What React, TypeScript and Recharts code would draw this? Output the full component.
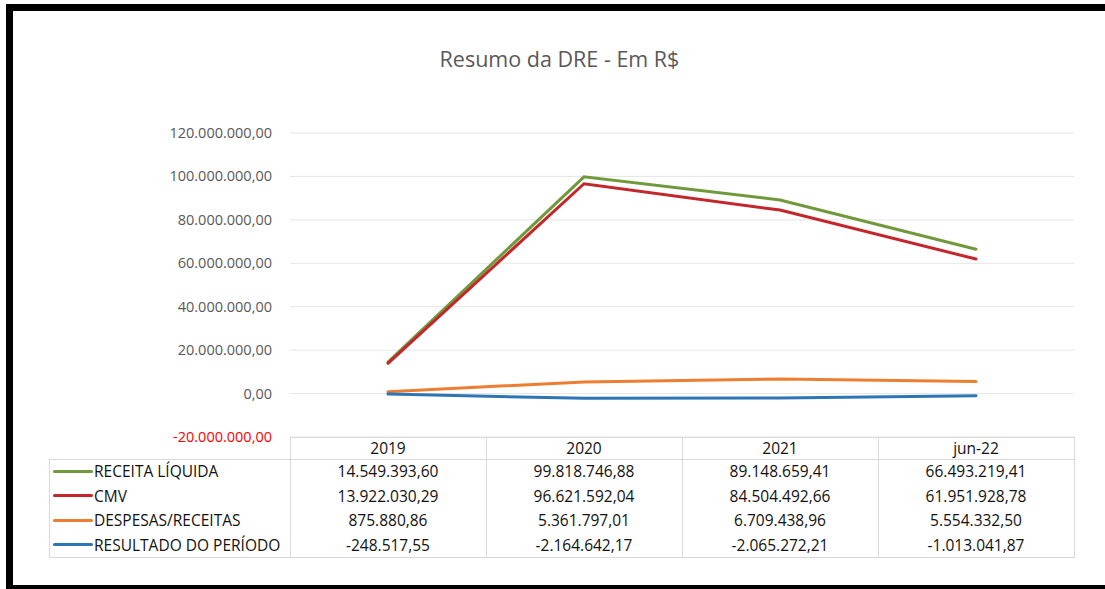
import { LineChart, Line, XAxis, YAxis, CartesianGrid } from 'recharts'

const YEARS = ['2019', '2020', '2021', 'jun-22']
const RECEITA_LIQUIDA = [14549393.6, 99818746.88, 89148659.41, 66493219.41]
const CMV = [13922030.29, 96621592.04, 84504492.66, 61951928.78]
const DESPESAS_RECEITAS = [875880.86, 5361797.01, 6709438.96, 5554332.5]
const RESULTADO = [-248517.55, -2164642.17, -2065272.21, -1013041.87]
const Y_TICKS = [-20000000, 0, 20000000, 40000000, 60000000, 80000000, 100000000, 120000000]

const SERIES = [
  { key: 'receita', name: 'RECEITA LÍQUIDA', color: '#70993c', values: RECEITA_LIQUIDA },
  { key: 'cmv', name: 'CMV', color: '#c3272c', values: CMV },
  { key: 'despesas', name: 'DESPESAS/RECEITAS', color: '#ed7d31', values: DESPESAS_RECEITAS },
  { key: 'resultado', name: 'RESULTADO DO PERÍODO', color: '#2e75b6', values: RESULTADO },
]

const W = 1105
const H = 589
const PLOT_LEFT = 290
const PLOT_RIGHT = 1074
const PLOT_TOP = 133
const PLOT_BOTTOM = 437
const BAND = (PLOT_RIGHT - PLOT_LEFT) / YEARS.length
const FONT = '"Open Sans", sans-serif'
const GRID = '#d9d9d9'

// pt-BR number format: 14.549.393,60
function fmt(v: number) {
  const neg = v < 0
  const [int, dec] = Math.abs(v).toFixed(2).split('.')
  const grouped = int.replace(/\B(?=(\d{3})+(?!\d))/g, '.')
  return (neg ? '-' : '') + grouped + ',' + dec
}

const data = YEARS.map((year, i) => {
  const row: Record<string, string | number> = { year }
  SERIES.forEach((s) => {
    row[s.key] = s.values[i]
  })
  return row
})

function YTick({ x, y, payload }: any) {
  const v = payload.value as number
  return (
    <text
      x={x}
      y={y + 5}
      textAnchor="end"
      fontSize={14.5}
      fontFamily={FONT}
      fill={v < 0 ? '#ff0000' : '#595959'}
    >
      {fmt(v)}
    </text>
  )
}

function Rule({ x, y, w, h }: { x: number; y: number; w: number; h: number }) {
  return (
    <div
      style={{ position: 'absolute', left: x, top: y, width: w, height: h, background: GRID }}
    />
  )
}

function DataTable() {
  const headerTop = PLOT_BOTTOM
  const headerH = 22
  const rowH = 24.5
  const rowsTop = headerTop + headerH
  const tableBottom = rowsTop + rowH * SERIES.length
  const legendLeft = 49

  return (
    <>
      <Rule x={PLOT_LEFT} y={headerTop} w={PLOT_RIGHT - PLOT_LEFT + 1} h={1} />
      <Rule x={legendLeft} y={rowsTop} w={PLOT_RIGHT - legendLeft + 1} h={1} />
      <Rule x={legendLeft} y={tableBottom} w={PLOT_RIGHT - legendLeft + 1} h={1} />
      <Rule x={legendLeft} y={rowsTop} w={1} h={tableBottom - rowsTop} />
      {YEARS.map((_, i) => (
        <Rule key={i} x={Math.round(PLOT_LEFT + BAND * i)} y={headerTop} w={1} h={tableBottom - headerTop} />
      ))}
      <Rule x={PLOT_RIGHT} y={headerTop} w={1} h={tableBottom - headerTop} />

      {YEARS.map((year, i) => (
        <div
          key={year}
          style={{
            position: 'absolute',
            left: PLOT_LEFT + BAND * i,
            top: headerTop,
            width: BAND,
            height: headerH,
            lineHeight: headerH + 'px',
            textAlign: 'center',
          }}
        >
          {year}
        </div>
      ))}

      {SERIES.map((s, r) => (
        <div key={s.key}>
          <div
            style={{
              position: 'absolute',
              left: 53,
              top: rowsTop + rowH * r + rowH / 2 - 1.5,
              width: 40,
              height: 3,
              borderRadius: 2,
              background: s.color,
            }}
          />
          <div
            style={{
              position: 'absolute',
              left: 94,
              top: rowsTop + rowH * r,
              height: rowH,
              lineHeight: rowH + 'px',
              whiteSpace: 'nowrap',
            }}
          >
            {s.name}
          </div>
          {s.values.map((v, i) => (
            <div
              key={i}
              style={{
                position: 'absolute',
                left: PLOT_LEFT + BAND * i,
                top: rowsTop + rowH * r,
                width: BAND,
                height: rowH,
                lineHeight: rowH + 'px',
                textAlign: 'center',
              }}
            >
              {fmt(v)}
            </div>
          ))}
        </div>
      ))}
    </>
  )
}

export default function App() {
  return (
    <div
      style={{
        position: 'absolute',
        left: 0,
        top: 0,
        width: W,
        height: H,
        background: '#fff',
        overflow: 'hidden',
        fontFamily: FONT,
        fontSize: 15.5,
        color: '#111',
      }}
    >
      {/* black frame */}
      <div
        style={{
          position: 'absolute',
          left: 6,
          top: 4,
          width: W - 6,
          height: H - 4,
          boxSizing: 'border-box',
          borderTop: '7px solid #000',
          borderLeft: '7px solid #000',
          borderBottom: '4px solid #000',
        }}
      />

      <div
        style={{
          position: 'absolute',
          left: 0,
          top: 44,
          width: 1119,
          textAlign: 'center',
          fontSize: 21.5,
          color: '#595959',
        }}
      >
        Resumo da DRE - Em R$
      </div>

      <div style={{ position: 'absolute', left: 0, top: 0 }}>
        <LineChart
          width={W}
          height={H}
          data={data}
          margin={{ top: PLOT_TOP, right: W - PLOT_RIGHT, bottom: H - PLOT_BOTTOM, left: 0 }}
        >
          <CartesianGrid vertical={false} stroke="#e6e6e6" />
          <XAxis dataKey="year" hide padding={{ left: BAND / 2, right: BAND / 2 }} />
          <YAxis
            width={PLOT_LEFT}
            domain={[-20000000, 120000000]}
            ticks={Y_TICKS}
            interval={0}
            axisLine={false}
            tickLine={false}
            tickSize={0}
            tickMargin={18}
            tick={<YTick />}
          />
          {SERIES.map((s) => (
            <Line
              key={s.key}
              dataKey={s.key}
              name={s.name}
              type="linear"
              stroke={s.color}
              strokeWidth={3}
              strokeLinecap="round"
              dot={false}
              isAnimationActive={false}
            />
          ))}
        </LineChart>
      </div>

      <DataTable />
    </div>
  )
}
